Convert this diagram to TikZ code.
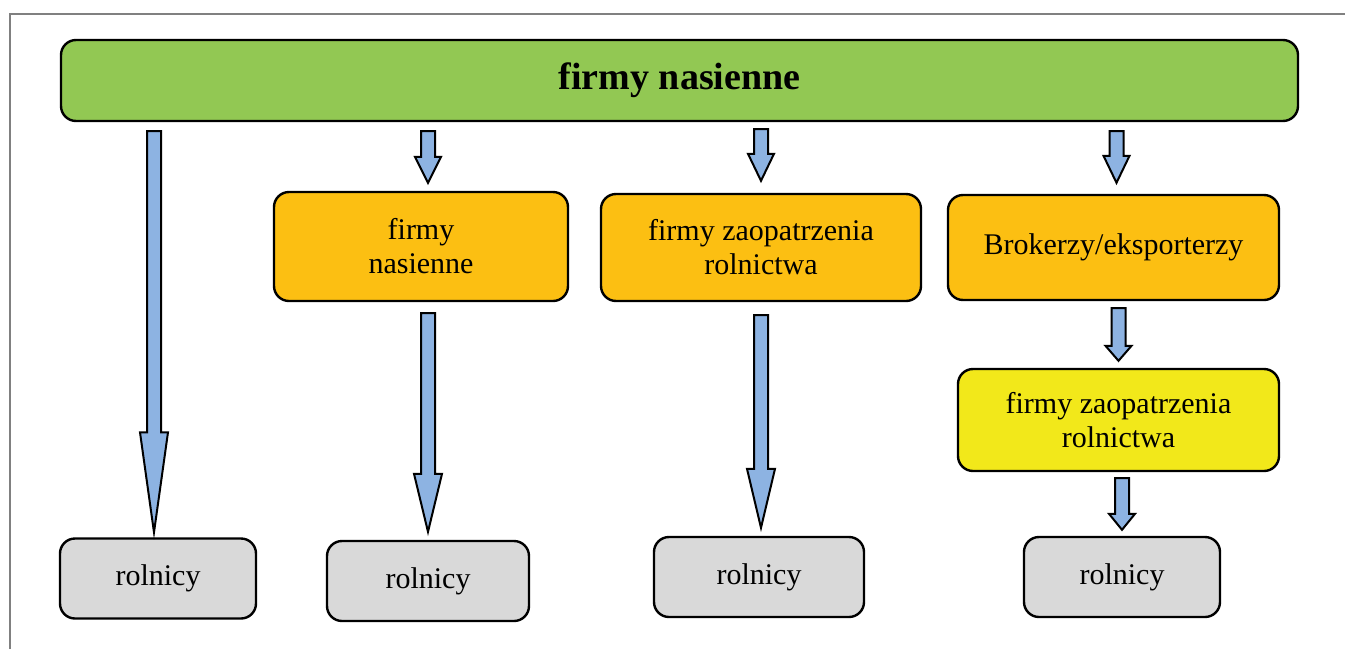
\documentclass[tikz,border=0pt]{standalone}
\usepackage{fontspec}
\setmainfont{Liberation Serif}
\usetikzlibrary{calc, positioning}

\definecolor{seedgreen}{HTML}{92C853}
\definecolor{supplyorange}{HTML}{FCBF12}
\definecolor{supplyyellow}{HTML}{F2E81A}
\definecolor{farmgray}{HTML}{D9D9D9}
\definecolor{flowblue}{HTML}{8DB3E2}

% block arrow: from, to, half shaft, half head, head length
\newcommand\blockarrow[5]{%
    \draw[flow] let \p1=#1, \p2=#2 in
        (\x1-#3,\y1) -- (\x1-#3,\y2+#5) -- (\x1-#4,\y2+#5) -- (\x1,\y2)
        -- (\x1+#4,\y2+#5) -- (\x1+#3,\y2+#5) -- (\x1+#3,\y1) -- cycle;
}

\begin{document}
\begin{tikzpicture}[x=0.5pt, y=-0.5pt,
    box/.style={draw=black, line width=1.2pt, rounded corners=7.5pt, align=center,
        inner sep=2pt, font=\fontsize{15}{17}\selectfont},
    seeds/.style={box, fill=seedgreen, minimum width=618.5pt, minimum height=40.5pt,
        font=\fontsize{19}{22}\selectfont\bfseries},
    supply/.style={box, fill=supplyorange},
    dealer/.style={box, fill=supplyyellow},
    farmer/.style={box, fill=farmgray, minimum height=40pt},
    flow/.style={draw=black, line width=1pt, fill=flowblue, line join=miter}]
    \useasboundingbox (0,0) rectangle (1345,649);
    % frame
    \draw[gray, line width=1pt] (10,649) -- (10,14) -- (1345,14);

    % boxes
    \node[seeds] (top) at (679.5,80.5) {firmy nasienne};
    \node[supply, minimum width=147pt, minimum height=54.5pt] (nas) at (421,246.5) {firmy\\nasienne};
    \node[supply, minimum width=160pt, minimum height=53.5pt] (zaop) at (761,247.5) {firmy zaopatrzenia\\rolnictwa};
    \node[supply, minimum width=165.5pt, minimum height=52.5pt] (brok) at (1113.5,247.5) {Brokerzy/eksporterzy};
    \node[dealer, minimum width=160.5pt, minimum height=51pt] (zaop2) at (1118.5,420) {firmy zaopatrzenia\\rolnictwa};
    \foreach \n/\x/\y/\w in {r1/158/578.5/98, r2/428/581/101, r3/759/577/105, r4/1122/577/98}
        \node[farmer, minimum width=\w pt] (\n) at (\x,\y) {rolnicy};

    % arrows
    \blockarrow{($(top.south -| r1.north)+(-4,9)$)}{($(r1.north)+(-4,-5)$)}{3.5pt}{7pt}{50pt}
    \blockarrow{($(top.south -| r2.north)+(0,9)$)}{($(nas.north -| r2.north)+(0,-8)$)}{3.5pt}{6.5pt}{13pt}
    \blockarrow{($(nas.south -| r2.north)+(0,11)$)}{($(r2.north)+(0,-8)$)}{3.5pt}{7pt}{29pt}
    \blockarrow{($(top.south -| zaop.north)+(0,7)$)}{($(zaop.north)+(0,-12)$)}{3.5pt}{6.5pt}{13.5pt}
    \blockarrow{($(zaop.south)+(0,13)$)}{($(r3.north -| zaop.south)+(0,-8)$)}{3.5pt}{7pt}{29.5pt}
    \blockarrow{($(top.south -| brok.north)+(3,9)$)}{($(brok.north)+(3,-11)$)}{3.5pt}{6.5pt}{13.5pt}
    \blockarrow{($(brok.south -| zaop2.north)+(0,7)$)}{($(zaop2.north)+(0,-7)$)}{3.5pt}{6.5pt}{7.5pt}
    \blockarrow{($(zaop2.south -| r4.north)+(0,6)$)}{($(r4.north)+(0,-6)$)}{3.5pt}{6.5pt}{8pt}
\end{tikzpicture}
\end{document}
